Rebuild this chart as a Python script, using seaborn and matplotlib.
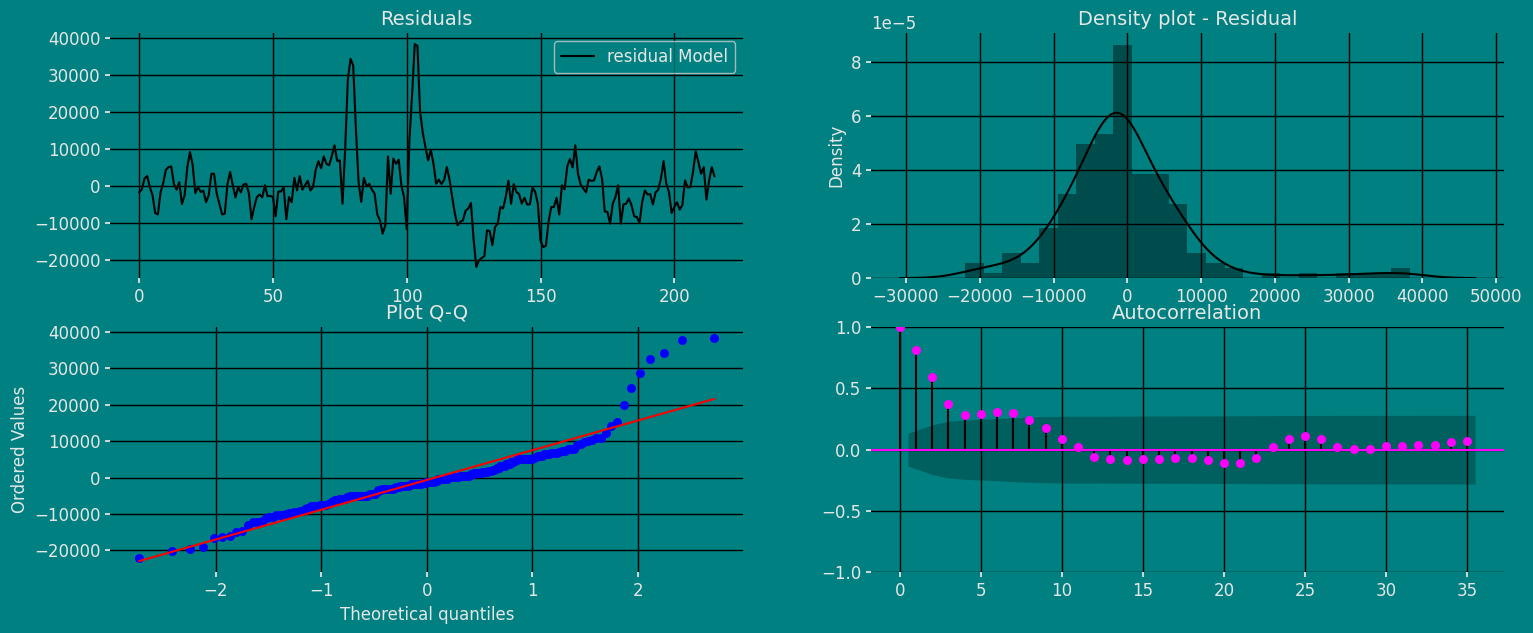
import numpy as np
import matplotlib
matplotlib.use("Agg")
import matplotlib.pyplot as plt
import seaborn as sns
from statistics import NormalDist

resid = [
    -1850, -1000, 1900, 2600, -400, -2600, -7400, -7800, -1850, 700, 4300, 5000,
    5200, 400, -1100, 900, -5000, -2600, 5000, 9100, 5600, -2000, -400, -1700,
    -1400, -4500, -2600, 3200, 3200, -2200, -4900, -7800, -7600, 400, 3700, 100,
    -3200, -400, -1850, 300, 500, -2000, -9100, -5800, -3100, -2400, -3200, 100,
    -2900, -2800, -3100, -8300, -1600, -1600, -400, -9100, -3100, -4500, 2100, -1300,
    2600, -1100, 100, 1300, -1300, -400, 4300, 6600, 4700, 7900, 5900, 5500,
    8000, 10900, 6700, 6800, -4900, 10000, 28700, 34300, 32500, 15400, 1000, -4400,
    2100, -200, 500, -1100, -2200, -7800, -9400, -13000, -10700, 7900, -2200, 7300,
    5900, 7000, 100, -3100, -11800, 12200, 24500, 38300, 37800, 19900, 14300, 10400,
    6800, 9700, 5900, 500, 1600, 400, 1600, 5000, 1600, -3100, -7600, -10700,
    -9800, -9400, -6800, -6200, -4700, -14600, -22000, -20200, -19600, -19100, -12100, -12300,
    -16100, -11200, -10300, -5800, -6200, -3100, 1300, -4900, 400, -1700, -2300, -4900,
    -3300, -5100, -5100, -500, -1700, -4900, -14900, -16600, -16300, -9800, -5800, -5800,
    -3300, -7800, 100, -1000, 5200, 7200, 4900, 10900, 3200, 300, -800, -1850,
    1600, 1300, 1400, 3700, 5200, 1900, -7000, -7100, -10300, -4900, -3100, 100,
    -10300, -5100, -4900, -3500, -5300, -8300, -8500, -10100, -4400, -1300, -2400, -2300,
    -5100, -1850, -1100, 1900, 6600, 500, -1700, -7400, -5800, -4500, -6500, -5300,
    1400, -500, -400, 3700, 9300, 6400, 3200, 5000, -3800, 1300, 5000, 2500,
]

# autocorrelation of the residuals, lags 0..35
acf_vals = [
    1.0, 0.81, 0.59, 0.375, 0.28, 0.29, 0.31, 0.30, 0.245, 0.18, 0.09, 0.02,
    -0.058, -0.077, -0.085, -0.077, -0.074, -0.066, -0.066, -0.082, -0.11, -0.11,
    -0.066, 0.025, 0.09, 0.113, 0.09, 0.025, 0.008, 0.008, 0.033, 0.033, 0.041,
    0.041, 0.066, 0.074,
]

light = "#e6e6e6"

sns.set_theme(style="darkgrid")
plt.rcParams.update({
    "figure.facecolor": "teal",
    "axes.facecolor": "teal",
    "savefig.facecolor": "teal",
    "axes.edgecolor": "teal",
    "axes.axisbelow": "line",
    "grid.color": "black",
    "grid.linewidth": 1.0,
    "text.color": light,
    "axes.labelcolor": light,
    "xtick.color": light,
    "ytick.color": light,
    "xtick.bottom": True,
    "ytick.left": True,
    "xtick.major.size": 3.5,
    "ytick.major.size": 3.5,
    "xtick.labelsize": 12,
    "ytick.labelsize": 12,
    "axes.labelsize": 12,
    "axes.titlesize": 14,
    "legend.fontsize": 12,
    "legend.edgecolor": "0.8",
    "legend.facecolor": "inherit",
    "legend.framealpha": 0.8,
})
plt.rcParams["font.family"] = ["DejaVu Sans"]

resid = np.array(resid, dtype=float)
n = len(resid)
idx = np.arange(n)

fig, axes = plt.subplots(2, 2, figsize=(15.33, 6.33), dpi=100)
fig.subplots_adjust(left=0.072, right=0.981, bottom=0.096, top=0.948,
                    wspace=0.202, hspace=0.2)

# Residuals line
ax = axes[0, 0]
sns.lineplot(x=idx, y=resid, color="black", label="residual Model", ax=ax)
ax.set_title("Residuals")
ax.set_xlabel("")
ax.set_ylabel("")
ax.legend(loc="upper right")

# Density plot
ax = axes[0, 1]
sns.histplot(resid, bins=24, stat="density", color="black", alpha=0.4,
             edgecolor="none", linewidth=0, ax=ax)
sns.kdeplot(resid, color="black", linewidth=1.5, ax=ax)
ax.set_title("Density plot - Residual")
ax.set_ylabel("Density")
ax.set_xlabel("")

# Q-Q plot (Filliben order statistic medians)
ax = axes[1, 0]
ordered = np.sort(resid)
probs = np.empty(n)
probs[-1] = 0.5 ** (1.0 / n)
probs[0] = 1 - probs[-1]
probs[1:-1] = (np.arange(2, n) - 0.3175) / (n + 0.365)
theo = np.array([NormalDist().inv_cdf(p) for p in probs])
slope, intercept = np.polyfit(theo, ordered, 1)
sns.scatterplot(x=theo, y=ordered, color="blue", s=42, linewidth=0, zorder=3, ax=ax)
sns.lineplot(x=theo, y=slope * theo + intercept, color="red", zorder=4, ax=ax)
ax.set_title("Plot Q-Q")
ax.set_xlabel("Theoretical quantiles")
ax.set_ylabel("Ordered Values")

# Autocorrelation
ax = axes[1, 1]
acf = np.array(acf_vals)
lags = np.arange(len(acf))
var = np.r_[1.0 / n, (1 + 2 * np.cumsum(acf[1:-1] ** 2)) / n]
half = 1.96 * np.sqrt(var)
band_x = lags[1:].astype(float)
band_x[0] -= 0.5
band_x[-1] += 0.5
ax.fill_between(band_x, -half, half, color="black", alpha=0.25, linewidth=0)
ax.vlines(lags, 0, acf, color="black", linewidth=1.5)
ax.axhline(0, color="magenta", linewidth=1.5)
sns.scatterplot(x=lags, y=acf, color="magenta", s=42, linewidth=0, zorder=3, ax=ax)
ax.set_ylim(-1, 1)
ax.set_title("Autocorrelation")
ax.set_xlabel("")
ax.set_ylabel("")

for a in axes.flat:
    for side in a.spines.values():
        side.set_visible(False)

fig.savefig("out.png", dpi=100)
